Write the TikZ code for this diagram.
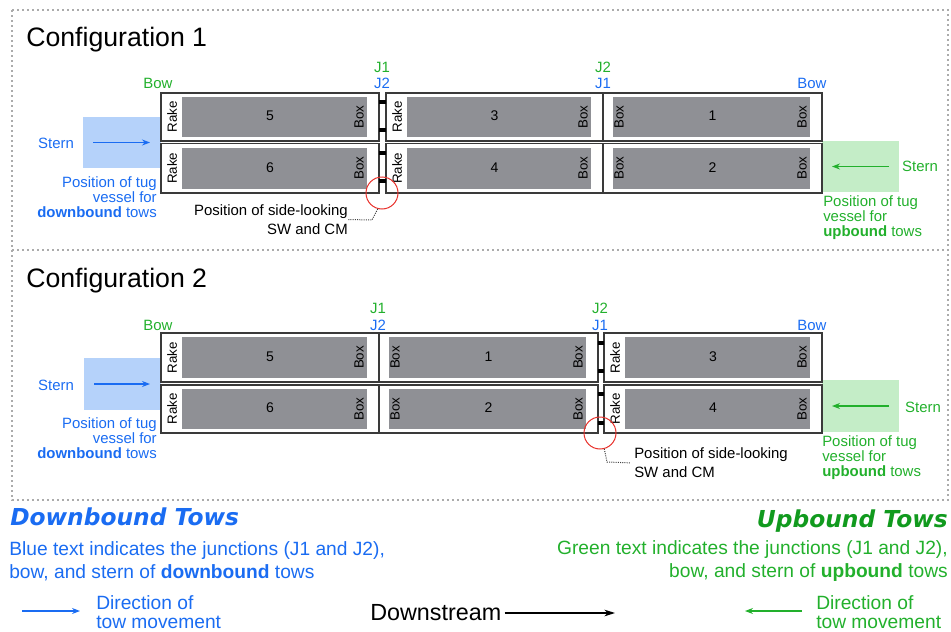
\documentclass[tikz,border=0pt]{standalone}
\usepackage{fontspec}
\setmainfont{Liberation Sans}
\newfontfamily\legendhead{DejaVu Sans}
\usetikzlibrary{arrows.meta,calc}

\definecolor{dnblue}{HTML}{1A6CF2}
\definecolor{upgreen}{HTML}{22B02C}
\definecolor{upgreendark}{HTML}{119A1E}
\definecolor{dnfill}{HTML}{B5D2FA}
\definecolor{upfill}{HTML}{C4EDC7}
\definecolor{holdgrey}{HTML}{8F9095}
\definecolor{framegrey}{HTML}{ABABAB}
\definecolor{hullline}{HTML}{3A3A3A}
\definecolor{sensorred}{HTML}{E8302A}

\tikzset{
  frame/.style={draw=framegrey, line width=1.7pt, dash pattern=on 1.6pt off 2.15pt},
  hull/.style={draw=hullline, line width=0.8pt, fill=white, inner sep=0pt, outer sep=0pt, anchor=north west},
  dnzone/.style={fill=dnfill, inner sep=0pt, outer sep=0pt, anchor=north west},
  upzone/.style={fill=upfill, inner sep=0pt, outer sep=0pt, anchor=north west},
  hold/.style={fill=holdgrey},
  endtag/.style={rotate=90, inner sep=0pt, font=\fontsize{10}{12}\selectfont},
  numtag/.style={inner sep=0pt, font=\fontsize{10.5}{12}\selectfont},
  coupling/.style={fill=black},
  sensor/.style={circle, draw=sensorred, line width=0.75pt, minimum size=24pt, inner sep=0pt},
  leader/.style={draw=black!75, line width=0.75pt, dash pattern=on 0.75pt off 0.9pt},
  tag/.style={inner sep=0pt, font=\fontsize{11.2}{11.25}\selectfont},
  note/.style={inner sep=0pt, font=\fontsize{11.2}{14.25}\selectfont},
  title/.style={inner sep=0pt, anchor=base west, font=\fontsize{20}{24}\selectfont},
  head/.style={inner sep=0pt, font=\legendhead\bfseries\itshape\fontsize{17.5}{21}\selectfont},
  legend/.style={inner sep=0pt, font=\fontsize{14.4}{17.25}\selectfont},
  dirtext/.style={inner sep=0pt, align=left, anchor=west, font=\fontsize{14.4}{14.4}\selectfont},
  big/.style={inner sep=0pt, font=\fontsize{17.5}{21}\selectfont},
  tow/.style={-{Stealth[length=6pt,width=4.5pt]}, line width=0.8pt},
  flow/.style={-{Stealth[length=8pt,width=5pt]}, line width=0.8pt, black},
}

% a rectangle node from its top-left and bottom-right corners (in px units)
\newcommand\rectnode[6]{%
  \node[#1, minimum width={(#5-#3)*0.75pt}, minimum height={(#6-#4)*0.75pt}] (#2) at (#3,#4) {};}
% left end of a barge with a raked bow
\newcommand\rakeend[1]{%
  \fill[hold] ($(#1.north west)+(21,4)$) rectangle ($(#1.south east)+(-12,-4)$);
  \node[endtag] at ($(#1.west)+(11,0)$) {Rake};}
% left end of a barge with a box end
\newcommand\boxend[1]{%
  \fill[hold] ($(#1.north west)+(10,4)$) rectangle ($(#1.south east)+(-12,-4)$);
  \node[endtag] at ($(#1.west)+(16,0)$) {Box};}
% right box end and barge number
\newcommand\bargetail[2]{%
  \node[endtag] at ($(#1.east)+(-20,0)$) {Box};
  \node[numtag] at ($(#1.center)+(0,-1)$) {#2};}

\begin{document}
\begin{tikzpicture}[x=0.75pt, y=-0.75pt]
\useasboundingbox (0,0) rectangle (951,632);

% dotted panel frame
\draw[frame] (12,10) rectangle (948,500);
\draw[frame] (12,250) -- (948,250);

% ---------------- Configuration 1 ----------------
\node[title] (cfg1) at (26,46) {Configuration 1};

\rectnode{dnzone}{dz1}{83}{117}{161}{168}
\rectnode{upzone}{uz1}{822}{141}{899}{192}
\draw[tow, color=dnblue] ($(dz1.west)+(10,0)$) -- ($(dz1.east)+(-11,0)$);
\draw[tow, color=upgreen] ($(uz1.east)+(-10,0)$) -- ($(uz1.west)+(10,0)$);
\node[tag, text=dnblue] (st1) at (56,143) {Stern};
\node[tag, text=upgreen] (st2) at (920,166) {Stern};
\node[tag, text=dnblue, align=right, anchor=east] (tg1) at (157,197)
  {Position of tug\\vessel for\\\textbf{downbound} tows};
\node[tag, text=upgreen, align=left, anchor=west] (tg2) at (823,218)
  {Position of tug\\vessel for\\\textbf{upbound} tows};

\rectnode{hull}{ca5}{161}{93}{379}{141}
\rectnode{hull}{ca6}{161}{143.5}{379}{193}
\rectnode{hull}{ca3}{386}{93}{603}{141}
\rectnode{hull}{ca4}{386}{143.5}{603}{193}
\rectnode{hull}{ca1}{603}{93}{822}{141}
\rectnode{hull}{ca2}{603}{143.5}{822}{193}
\rakeend{ca5}\bargetail{ca5}{5}
\rakeend{ca6}\bargetail{ca6}{6}
\rakeend{ca3}\bargetail{ca3}{3}
\rakeend{ca4}\bargetail{ca4}{4}
\boxend{ca1}\bargetail{ca1}{1}
\boxend{ca2}\bargetail{ca2}{2}
\foreach \cy in {102,130,153,181}
  \fill[coupling] (379,{\cy-1.7}) rectangle (386,{\cy+1.7});

\node[tag, text=upgreen] (bw1) at (158,83) {Bow};
\node[tag, text=dnblue] (bw2) at (812,83) {Bow};
\node[tag, text=upgreen] (ja1) at (382,67.5) {J1};
\node[tag, text=dnblue] (ja2) at (382,83) {J2};
\node[tag, text=upgreen] (jb1) at (603,67.5) {J2};
\node[tag, text=dnblue] (jb2) at (603,83) {J1};

\node[sensor] (s1) at (382,193) {};
\node[note, align=right, anchor=east] (n1) at (348,219.5)
  {Position of side-looking\\SW and CM};
\coordinate (k1) at (372,220);
\draw[leader] (s1.255) -- (k1) -- (n1.east);

% ---------------- Configuration 2 ----------------
\node[title] (cfg2) at (26,287) {Configuration 2};

\rectnode{dnzone}{dz2}{84}{358}{161}{410}
\rectnode{upzone}{uz2}{822}{380}{899}{432}
\draw[tow, color=dnblue] ($(dz2.west)+(10,0)$) -- ($(dz2.east)+(-11,0)$);
\draw[tow, color=upgreen] ($(uz2.east)+(-10,0)$) -- ($(uz2.west)+(10,0)$);
\node[tag, text=dnblue] (st3) at (56,385) {Stern};
\node[tag, text=upgreen] (st4) at (923,407) {Stern};
\node[tag, text=dnblue, align=right, anchor=east] (tg3) at (157,438)
  {Position of tug\\vessel for\\\textbf{downbound} tows};
\node[tag, text=upgreen, align=left, anchor=west] (tg4) at (822,458)
  {Position of tug\\vessel for\\\textbf{upbound} tows};

\rectnode{hull}{cb5}{161}{333}{379}{382}
\rectnode{hull}{cb6}{161}{385}{379}{433}
\rectnode{hull}{cb1}{379}{333}{598}{382}
\rectnode{hull}{cb2}{379}{385}{598}{433}
\rectnode{hull}{cb3}{604}{333}{822}{382}
\rectnode{hull}{cb4}{604}{385}{822}{433}
\rakeend{cb5}\bargetail{cb5}{5}
\rakeend{cb6}\bargetail{cb6}{6}
\boxend{cb1}\bargetail{cb1}{1}
\boxend{cb2}\bargetail{cb2}{2}
\rakeend{cb3}\bargetail{cb3}{3}
\rakeend{cb4}\bargetail{cb4}{4}
\foreach \cy in {343,371,394,423}
  \fill[coupling] (598,{\cy-1.7}) rectangle (604,{\cy+1.7});

\node[tag, text=upgreen] (bw3) at (158,325) {Bow};
\node[tag, text=dnblue] (bw4) at (812,325) {Bow};
\node[tag, text=upgreen] (jc1) at (378,308) {J1};
\node[tag, text=dnblue] (jc2) at (378,325) {J2};
\node[tag, text=upgreen] (jd1) at (600,308) {J2};
\node[tag, text=dnblue] (jd2) at (600,325) {J1};

\node[sensor] (s2) at (600,433) {};
\node[note, align=left, anchor=west] (n2) at (634,463)
  {Position of side-looking\\SW and CM};
\coordinate (k2) at (607,462);
\draw[leader, shorten >=3pt] (s2.285) -- (k2) -- (n2.west);

% ---------------- Legend ----------------
\node[head, text=dnblue, anchor=base west] (dnhead) at (10,525) {Downbound Tows};
\node[head, text=upgreendark, anchor=base east] (uphead) at (948,527) {Upbound Tows};
\node[legend, text=dnblue, align=left, anchor=west] (dntext) at (9,561)
  {Blue text indicates the junctions (J1 and J2),\\bow, and stern of \textbf{downbound} tows};
\node[legend, text=upgreen, align=right, anchor=east] (uptext) at (948,561)
  {Green text indicates the junctions (J1 and J2),\\bow, and stern of \textbf{upbound} tows};

\coordinate (dnA) at (22,611);
\coordinate (dnB) at (80,611);
\draw[tow, color=dnblue] (dnA) -- (dnB);
\node[dirtext, text=dnblue] (dndir) at (96,612) {Direction of\\tow movement};

\node[big, anchor=west] (ds) at (370,613) {Downstream};
\coordinate (dsEnd) at (615,613);
\draw[flow] ($(ds.east)+(3,0)$) -- (dsEnd);

\coordinate (upA) at (802,611);
\coordinate (upB) at (745,611);
\draw[tow, color=upgreen] (upA) -- (upB);
\node[dirtext, text=upgreen] (updir) at (816,612) {Direction of\\tow movement};
\end{tikzpicture}
\end{document}
